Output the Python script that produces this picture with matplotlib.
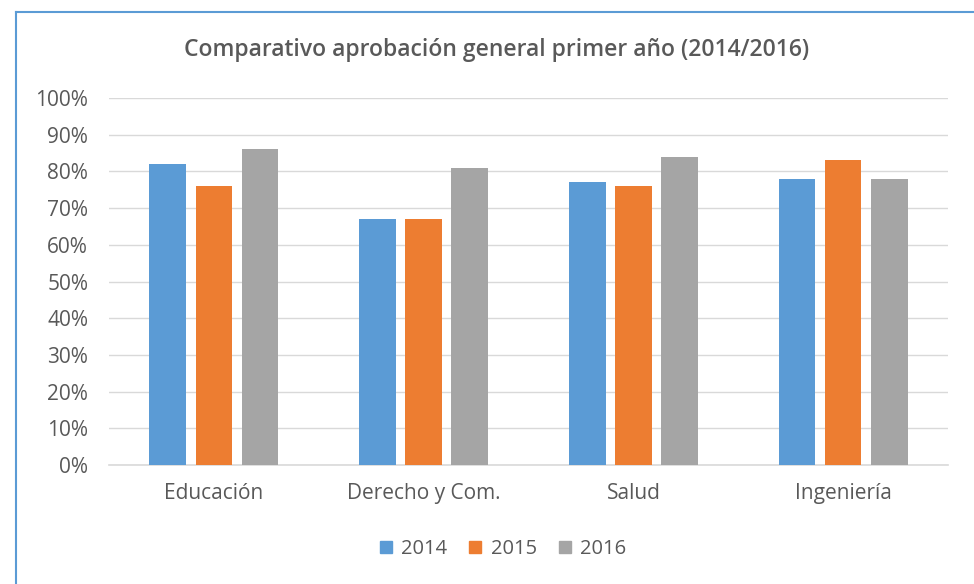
import matplotlib
matplotlib.use("Agg")
import matplotlib.pyplot as plt
from matplotlib.lines import Line2D
from matplotlib.ticker import FuncFormatter
import numpy as np

categories = ["Educación", "Derecho y Com.", "Salud", "Ingeniería"]
years = ["2014", "2015", "2016"]
v2014 = [0.82, 0.67, 0.77, 0.78]
v2015 = [0.76, 0.67, 0.76, 0.83]
v2016 = [0.86, 0.81, 0.84, 0.78]
colors = ["#5B9BD5", "#ED7D31", "#A5A5A5"]

plt.rcParams['font.family'] = ['Open Sans', 'DejaVu Sans']
txt = "#595959"

fig = plt.figure(figsize=(9.74, 5.84), dpi=100)
ax = fig.add_axes([109/974, 1 - 465/584, (948 - 109)/974, (465 - 98)/584])

x = np.arange(len(categories))
w = 0.175
off = 0.22
for i, (vals, c) in enumerate(zip([v2014, v2015, v2016], colors)):
    ax.bar(x + (i - 1) * off, vals, width=w, color=c, label=years[i], zorder=3)

ax.set_xlim(-0.5, len(categories) - 0.5)
ax.set_ylim(0, 1.0)
ax.set_yticks(np.arange(0, 1.01, 0.1))
ax.yaxis.set_major_formatter(FuncFormatter(lambda v, p: f"{v*100:.0f}%"))
ax.grid(axis='y', color="#D9D9D9", lw=1, zorder=0)
ax.set_xticks(x)
ax.set_xticklabels(categories)
for s in ['top', 'right', 'left']:
    ax.spines[s].set_visible(False)
ax.spines['bottom'].set_color("#D9D9D9")
ax.spines['bottom'].set_linewidth(1.2)
ax.tick_params(axis='both', length=0, labelsize=15, colors=txt)
ax.tick_params(axis='y', pad=15)
ax.tick_params(axis='x', pad=13)

fig.text(497/974, 1 - 50/584, "Comparativo aprobación general primer año (2014/2016)",
         ha='center', va='center', fontsize=16.5, fontweight='semibold', color=txt)

handles = [Line2D([], [], marker='s', ls='none', markersize=9, color=c) for c in colors]
fig.legend(handles, years, loc='center', bbox_to_anchor=(502/974, 1 - 549/584),
           ncol=3, frameon=False, fontsize=14.5, labelcolor=txt,
           handletextpad=0.35, columnspacing=1.0, handlelength=0.8)

# chart frame (cut off on the right and bottom)
fig.add_artist(Line2D([16/974, 16/974], [0, 1 - 12/584], color="#5B9BD5", lw=1.5))
fig.add_artist(Line2D([16/974, 1], [1 - 12/584, 1 - 12/584], color="#5B9BD5", lw=1.5))

fig.savefig("out.png", dpi=100)
